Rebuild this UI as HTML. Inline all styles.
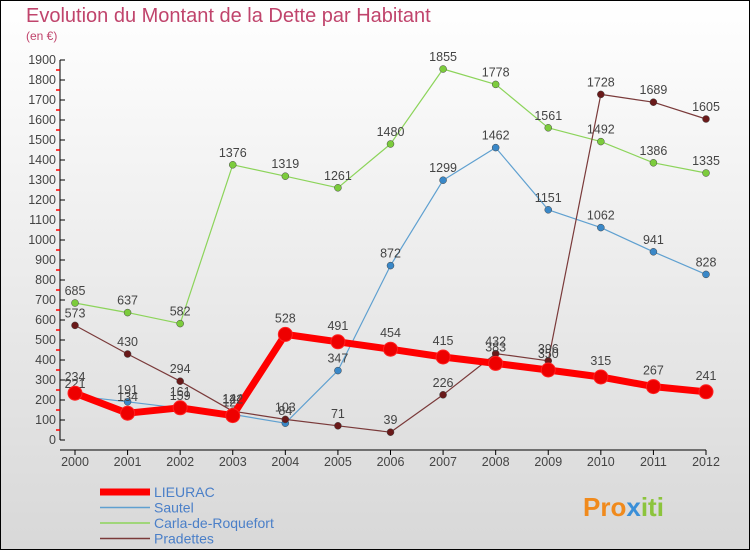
<!DOCTYPE html>
<html><head><meta charset="utf-8"><style>
body{margin:0}
svg text{font-family:"Liberation Sans",sans-serif}
</style></head><body>
<svg id="c" width="750" height="550" xmlns="http://www.w3.org/2000/svg">
<defs><linearGradient id="bg" x1="0" y1="0" x2="0" y2="1"><stop offset="0" stop-color="#ffffff"/><stop offset="1" stop-color="#d8d8d8"/></linearGradient></defs>
<rect x="0.5" y="0.5" width="749" height="549" fill="url(#bg)" stroke="#000"/>
<text x="26" y="22" font-size="20" fill="#c0446c">Evolution du Montant de la Dette par Habitant</text>
<text x="26" y="40" font-size="12" fill="#c0446c">(en €)</text>
<g id="axes"></g><g id="series"></g><g id="legend"></g>
<text x="583" y="516" font-size="26" font-weight="bold" fill="#f08a1c">Pro<tspan fill="#3a8fd8">x</tspan><tspan fill="#8cc43c">iti</tspan></text>
</svg>
<script>
const years=[2000,2001,2002,2003,2004,2005,2006,2007,2008,2009,2010,2011,2012];
const lieurac=[234,134,161,122,528,491,454,415,383,350,315,267,241];
const sautel=[221,191,159,128,84,347,872,1299,1462,1151,1062,941,828];
const carla=[685,637,582,1376,1319,1261,1480,1855,1778,1561,1492,1386,1335];
const pradettes=[573,430,294,144,103,71,39,226,432,396,1728,1689,1605];
const yTicks=[0,100,200,300,400,500,600,700,800,900,1000,1100,1200,1300,1400,1500,1600,1700,1800,1900];
const NS="http://www.w3.org/2000/svg";
const x=i=>75+i*(706-75)/12, y=v=>440-v*0.2;
function mk(t,a,p){const e=document.createElementNS(NS,t);for(const k in a)e.setAttribute(k,a[k]);(p||document.getElementById('series')).appendChild(e);return e;}
const ax=document.getElementById('axes');
let e=mk('line',{x1:60,y1:60,x2:60,y2:440,stroke:'#000'},ax);


e=mk('line',{x1:60,y1:450,x2:706,y2:450,stroke:'#000'},ax);


yTicks.forEach(v=>{
 mk('line',{x1:60,y1:y(v),x2:65,y2:y(v),stroke:'#000'},ax);
 if(v<1900)mk('line',{x1:56,y1:y(v+50),x2:60,y2:y(v+50),stroke:'#ff0000','stroke-width':1.5},ax);
 const t=mk('text',{x:56,y:y(v)+4,'font-size':12.5,'text-anchor':'end',fill:'#444'},ax);t.textContent=v;
 
 
});
years.forEach((yr,i)=>{
 mk('line',{x1:x(i),y1:450,x2:x(i),y2:455,stroke:'#000'},ax);
 const t=mk('text',{x:x(i),y:466,'font-size':12.5,'text-anchor':'middle',fill:'#444'},ax);t.textContent=yr;
 
 
});
const series=[
 {n:'Carla-de-Roquefort',d:carla,c:'#8cd45a',w:1.2,r:3.5,f:'#7ccc3c'},
 {n:'Sautel',d:sautel,c:'#5fa0d0',w:1.2,r:3.5,f:'#3a88c8'},
 {n:'Pradettes',d:pradettes,c:'#7a3a3a',w:1.2,r:3.5,f:'#6a1a1a'},
 {n:'LIEURAC',d:lieurac,c:'#ff0000',w:7,r:7,f:'#ee0000'}];
series.forEach(s=>{
 const g=mk('g',{});
 
 
 mk('polyline',{points:s.d.map((v,i)=>x(i)+','+y(v)).join(' '),fill:'none',stroke:s.c,'stroke-width':s.w,'stroke-linejoin':'round'},g);
 s.d.forEach((v,i)=>{
  const c=mk('circle',{cx:x(i),cy:y(v),r:s.r,fill:s.f,stroke:s.w>2?'#ff2020':'#444','stroke-width':s.w>2?1:0.5},g);
  
  
  const t=mk('text',{x:x(i),y:y(v)-(s.w>2?12:8),'font-size':12.5,'text-anchor':'middle',fill:'#444'},g);t.textContent=v;
  
  
 });
});
const lg=document.getElementById('legend');
[['LIEURAC','#ff0000',7],['Sautel','#5fa0d0',1.5],['Carla-de-Roquefort','#8cd45a',1.5],['Pradettes','#7a3a3a',1.5]].forEach((l,i)=>{
 const g=mk('g',{},lg);
 
 
 const yy=492+i*15.5;
 mk('line',{x1:100,y1:yy,x2:150,y2:yy,stroke:l[1],'stroke-width':l[2]},g);
 const t=mk('text',{x:154,y:yy+5,'font-size':14,fill:'#4a7fc8'},g);t.textContent=l[0];
});
</script>
</body></html>
